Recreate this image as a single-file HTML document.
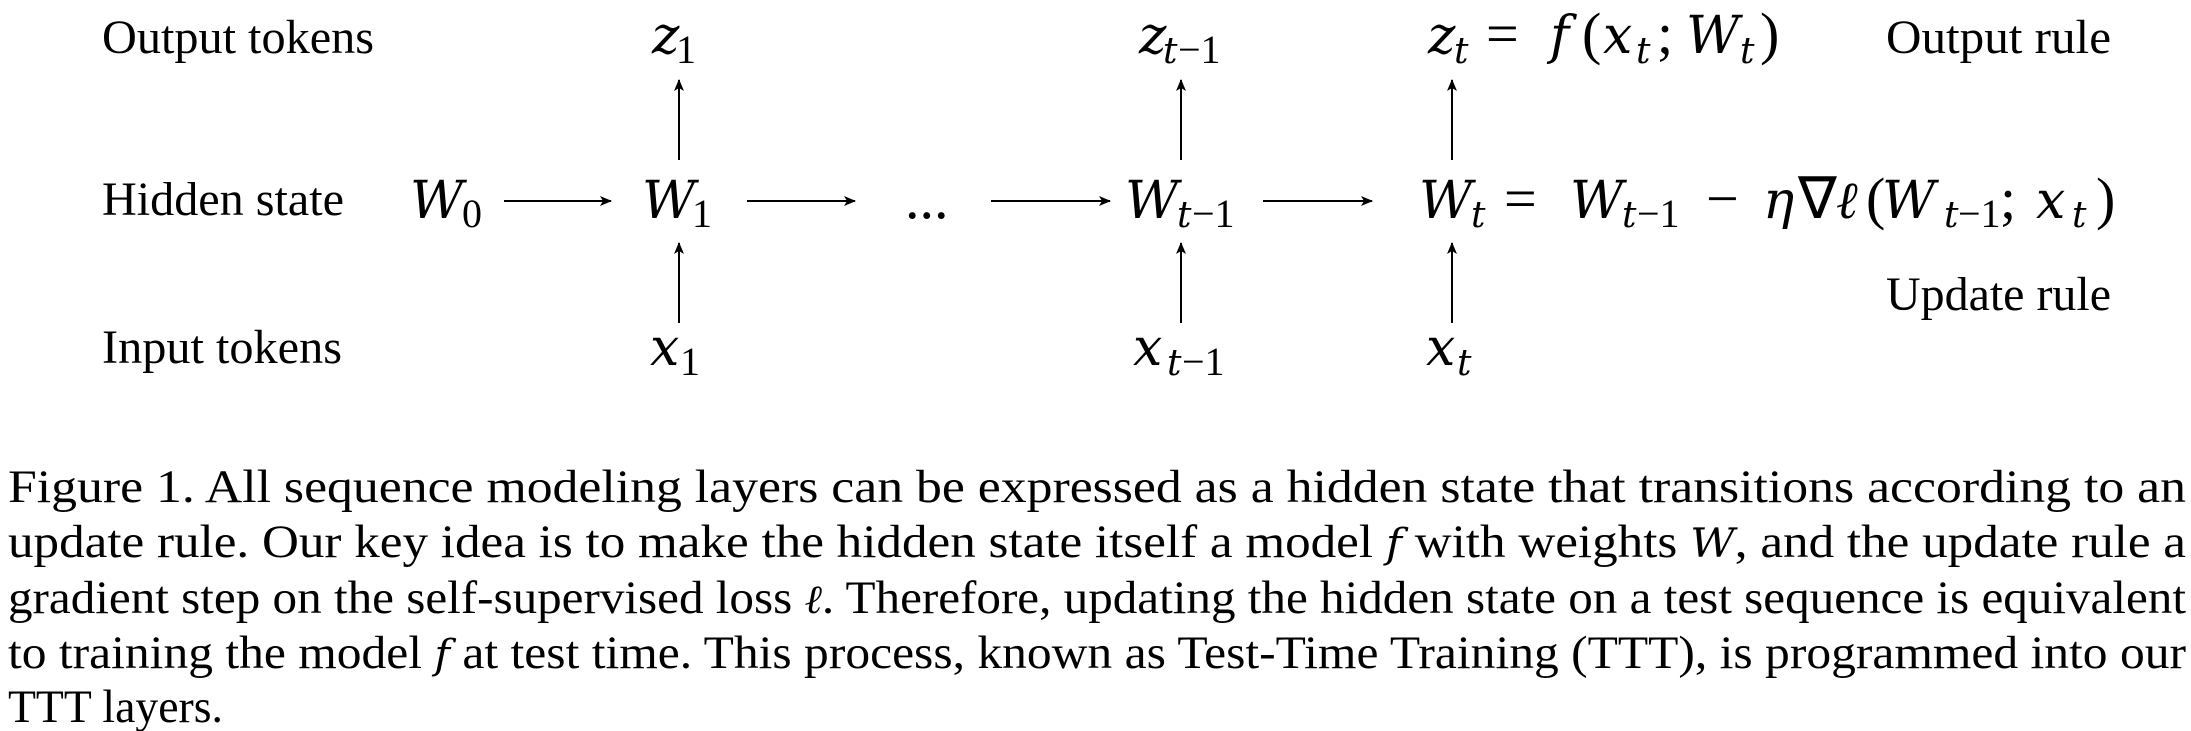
<!DOCTYPE html>
<html><head><meta charset="utf-8"><style>
html,body{margin:0;padding:0;background:#fff;}
svg{display:block;}
text{font-family:"Liberation Serif",serif;fill:#000;}
.l{font-size:48px;}
.m{font-size:52px;font-style:italic;font-family:"DejaVu Serif",serif;}
.r{font-size:58px;}
.s{font-size:36px;font-style:italic;font-family:"DejaVu Serif",serif;}
.sr{font-size:40px;}
.c{font-size:47px;}
.ci{font-style:italic;font-family:"DejaVu Serif",serif;font-size:40px;}
</style></head><body>
<svg width="2191" height="731" viewBox="0 0 2191 731" xmlns="http://www.w3.org/2000/svg">
<defs><marker id="a" markerWidth="12" markerHeight="10" refX="11" refY="5" orient="auto" markerUnits="userSpaceOnUse"><path d="M0,0 L12,5 L0,10 L3,5 Z" fill="#000"/></marker></defs>
<g stroke="#000" stroke-width="2" fill="none" marker-end="url(#a)">
<line x1="504" y1="201" x2="611" y2="201"/>
<line x1="747" y1="201" x2="855" y2="201"/>
<line x1="991" y1="201" x2="1110" y2="201"/>
<line x1="1263" y1="201" x2="1372" y2="201"/>
<line x1="679" y1="160" x2="679" y2="80"/>
<line x1="679" y1="323" x2="679" y2="243"/>
<line x1="1181" y1="160" x2="1181" y2="80"/>
<line x1="1181" y1="323" x2="1181" y2="243"/>
<line x1="1452" y1="160" x2="1452" y2="80"/>
<line x1="1452" y1="323" x2="1452" y2="243"/>
</g>
<text class="l" x="102" y="53" textLength="272" lengthAdjust="spacingAndGlyphs">Output tokens</text>
<text class="l" x="102" y="215" textLength="242" lengthAdjust="spacingAndGlyphs">Hidden state</text>
<text class="l" x="102" y="363" textLength="240" lengthAdjust="spacingAndGlyphs">Input tokens</text>
<text class="l" x="1886" y="53" textLength="225" lengthAdjust="spacingAndGlyphs">Output rule</text>
<text class="l" x="1886" y="310" textLength="225" lengthAdjust="spacingAndGlyphs">Update rule</text>

<text class="m" x="652" y="53">z</text><text class="sr" x="676" y="63">1</text>
<text class="m" x="410" y="218">W</text><text class="sr" x="462" y="227">0</text>
<text class="m" x="642" y="218">W</text><text class="sr" x="692" y="227">1</text>
<text class="r" x="905" y="218">...</text>
<text class="m" x="650" y="365">x</text><text class="sr" x="680" y="375">1</text>

<text class="m" x="1139" y="53">z</text><text class="s" x="1163" y="63">t</text><text class="sr" x="1178" y="63">−1</text>
<text class="m" x="1125" y="218">W</text><text class="s" x="1177" y="227">t</text><text class="sr" x="1192" y="227">−1</text>
<text class="m" x="1133" y="365">x</text><text class="s" x="1167" y="375">t</text><text class="sr" x="1182" y="375">−1</text>
<text class="m" x="1426" y="365">x</text><text class="s" x="1457" y="375">t</text>

<text class="m" x="1428" y="53">z</text><text class="s" x="1454" y="63">t</text>
<text class="r" x="1486" y="53">=</text>
<text class="m" x="1550" y="53">f</text>
<text class="r" x="1582" y="53">(</text>
<text class="m" x="1603" y="53">x</text><text class="s" x="1636" y="63">t</text>
<text class="r" x="1657" y="53">;</text>
<text class="m" x="1686" y="53">W</text><text class="s" x="1740" y="63">t</text>
<text class="r" x="1760" y="53">)</text>

<text class="m" x="1419" y="218">W</text><text class="s" x="1471" y="227">t</text>
<text class="r" x="1504" y="218">=</text>
<text class="m" x="1570" y="218">W</text><text class="s" x="1622" y="227">t</text><text class="sr" x="1637" y="227">−1</text>
<text class="r" x="1706" y="218">−</text>
<text class="m" x="1763" y="218">η</text>
<text class="r" x="1798" y="218">∇</text>
<text class="m" x="1836" y="218">ℓ</text>
<text class="r" x="1866" y="218">(</text>
<text class="m" x="1882" y="218">W</text><text class="s" x="1944" y="227">t</text><text class="sr" x="1958" y="227">−1</text>
<text class="r" x="2000" y="218">;</text>
<text class="m" x="2036" y="218">x</text><text class="s" x="2072" y="227">t</text>
<text class="r" x="2096" y="218">)</text>

<text class="c" x="8" y="502" textLength="2178" lengthAdjust="spacingAndGlyphs">Figure 1. All sequence modeling layers can be expressed as a hidden state that transitions according to an</text>
<text class="c" x="8" y="557" textLength="2178" lengthAdjust="spacingAndGlyphs">update rule. Our key idea is to make the hidden state itself a model <tspan class="ci">f</tspan> with weights <tspan class="ci">W</tspan>, and the update rule a</text>
<text class="c" x="8" y="613" textLength="2178" lengthAdjust="spacingAndGlyphs">gradient step on the self-supervised loss <tspan class="ci">ℓ</tspan>. Therefore, updating the hidden state on a test sequence is equivalent</text>
<text class="c" x="8" y="668" textLength="2178" lengthAdjust="spacingAndGlyphs">to training the model <tspan class="ci">f</tspan> at test time. This process, known as Test-Time Training (TTT), is programmed into our</text>
<text class="c" x="8" y="722" textLength="215" lengthAdjust="spacingAndGlyphs">TTT layers.</text>
</svg>
</body></html>
